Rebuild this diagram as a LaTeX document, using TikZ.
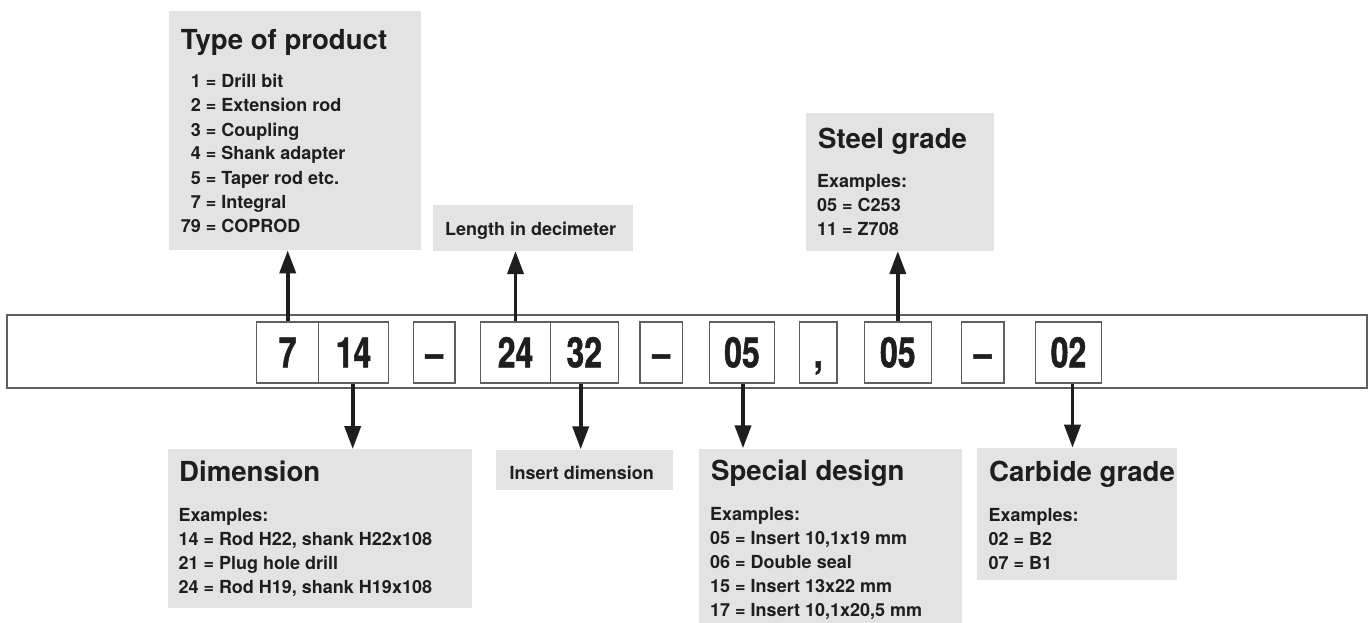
\documentclass[tikz,border=0pt]{standalone}
\usepackage{fontspec}
\setmainfont{TeX Gyre Heros}
\newfontfamily\condfont[FakeStretch=0.76,FakeBold=1.2]{TeX Gyre Heros}
\usetikzlibrary{arrows.meta}
\definecolor{ink}{HTML}{1E1E1C}
\definecolor{panel}{HTML}{E3E3E3}
\definecolor{rim}{HTML}{5F5F5F}
\begin{document}
\begin{tikzpicture}[x=1pt,y=-1pt,
  panelbox/.style={fill=panel, draw=none, inner sep=0, anchor=north west},
  digitbox/.style={draw=rim, line width=1.2pt, fill=white, minimum height=61pt, inner sep=0,
    text height=30pt, text depth=0pt, font=\condfont\bfseries\fontsize{42}{42}\selectfont, text=ink},
  titletxt/.style={anchor=base west, inner sep=0, font=\bfseries\fontsize{27.6}{30}\selectfont, text=ink},
  bodytxt/.style={anchor=base west, inner sep=0, font=\bfseries\fontsize{18}{20}\selectfont, text=ink},
  arr/.style={draw=ink, line width=3.8pt, -{Triangle[length=23pt,width=16pt]}}]
\useasboundingbox (0,0) rectangle (1368,623);

% panels
\node[panelbox, minimum width=252.7pt, minimum height=239pt] (ptype) at (168.3,11) {};
\node[panelbox, minimum width=200.4pt, minimum height=45.7pt] (plen) at (432.3,205) {};
\node[panelbox, minimum width=188pt, minimum height=138pt] (psteel) at (806,112.7) {};
\node[panelbox, minimum width=304.4pt, minimum height=159pt] (pdim) at (167.3,449) {};
\node[panelbox, minimum width=176.7pt, minimum height=40pt] (pins) at (496,449.3) {};
\node[panelbox, minimum width=263pt, minimum height=175pt] (pspec) at (699,448.3) {};
\node[panelbox, minimum width=200.3pt, minimum height=132.3pt] (pcarb) at (976.7,447.7) {};

% strip
\node[draw=rim, line width=1.5pt, minimum width=1360pt, minimum height=73pt, inner sep=0, anchor=north west] (strip) at (6,314) {};

% code boxes
\node[digitbox, minimum width=62pt] (d7) at (287.7,352.4) {7};
\node[digitbox, minimum width=69.6pt] (d14) at (353.5,352.4) {14};
\node[digitbox, minimum width=41.3pt] (s1) at (434.3,352.4) {–};
\node[digitbox, minimum width=69.6pt] (d24) at (515.5,352.4) {24};
\node[digitbox, minimum width=68pt] (d32) at (584.3,352.4) {32};
\node[digitbox, minimum width=42.3pt] (s2) at (661.2,352.4) {–};
\node[digitbox, minimum width=65.4pt] (d05a) at (742,352.4) {05};
\node[digitbox, minimum width=37.7pt] (s3) at (818.2,352.4) {,};
\node[digitbox, minimum width=67pt] (d05b) at (897.8,352.4) {05};
\node[digitbox, minimum width=42.3pt] (s4) at (982.8,352.4) {–};
\node[digitbox, minimum width=66.4pt] (d02) at (1068.5,352.4) {02};

% arrows
\draw[arr] (d7.north) -- (d7.north |- ptype.south);
\draw[arr] (d24.north) -- (d24.north |- plen.south);
\draw[arr] (d05b.north) -- (d05b.north |- psteel.south);
\draw[arr] ([xshift=-0.8pt]d14.south) -- ([xshift=-0.8pt]d14.south |- pdim.north);
\draw[arr] ([xshift=-3.6pt]d32.south) -- ([xshift=-3.6pt]d32.south |- pins.north);
\draw[arr] ([xshift=1pt]d05a.south) -- ([xshift=1pt]d05a.south |- pspec.north);
\draw[arr] ([xshift=4pt]d02.south) -- ([xshift=4pt]d02.south |- pcarb.north);

% Type of product
\node[titletxt] (ttype) at (180.7,50) {Type of product};
\node[bodytxt] (t1) at (180.7,88) {\makebox[20pt][r]{1} = Drill bit};
\node[bodytxt] (t2) at (180.7,112) {\makebox[20pt][r]{2} = Extension rod};
\node[bodytxt] (t3) at (180.7,136) {\makebox[20pt][r]{3} = Coupling};
\node[bodytxt] (t4) at (180.7,160) {\makebox[20pt][r]{4} = Shank adapter};
\node[bodytxt] (t5) at (180.7,184) {\makebox[20pt][r]{5} = Taper rod etc.};
\node[bodytxt] (t6) at (180.7,208) {\makebox[20pt][r]{7} = Integral};
\node[bodytxt] (t7) at (180.7,232) {\makebox[20pt][r]{79} = COPROD};

% Length
\node[bodytxt] (tlen) at (445,235.7) {Length in decimeter};

% Steel grade
\node[titletxt] (tsteel) at (818,149) {Steel grade};
\node[bodytxt] (s1a) at (817,187) {Examples:};
\node[bodytxt] (s1b) at (817,211.5) {05 = C253};
\node[bodytxt] (s1c) at (817,235.7) {11 = Z708};

% Dimension
\node[titletxt] (tdim) at (179,481.7) {Dimension};
\node[bodytxt] (m1) at (178.3,521.7) {Examples:};
\node[bodytxt] (m2) at (178.3,545.7) {14 = Rod H22, shank H22x108};
\node[bodytxt] (m3) at (178.3,569.7) {21 = Plug hole drill};
\node[bodytxt] (m4) at (178.3,593.7) {24 = Rod H19, shank H19x108};

% Insert dimension
\node[bodytxt] (tins) at (509.3,479.3) {Insert dimension};

% Special design
\node[titletxt] (tspec) at (711,480) {Special design};
\node[bodytxt] (p1) at (710,520) {Examples:};
\node[bodytxt] (p2) at (710,544.5) {05 = Insert 10,1x19 mm};
\node[bodytxt] (p3) at (710,568.5) {06 = Double seal};
\node[bodytxt] (p4) at (710,592.5) {15 = Insert 13x22 mm};
\node[bodytxt] (p5) at (710,616.5) {17 = Insert 10,1x20,5 mm};

% Carbide grade
\node[titletxt] (tcarb) at (989,481.7) {Carbide grade};
\node[bodytxt] (c1) at (988.5,521.7) {Examples:};
\node[bodytxt] (c2) at (988.5,545.7) {02 = B2};
\node[bodytxt] (c3) at (988.5,569) {07 = B1};
\end{tikzpicture}
\end{document}
